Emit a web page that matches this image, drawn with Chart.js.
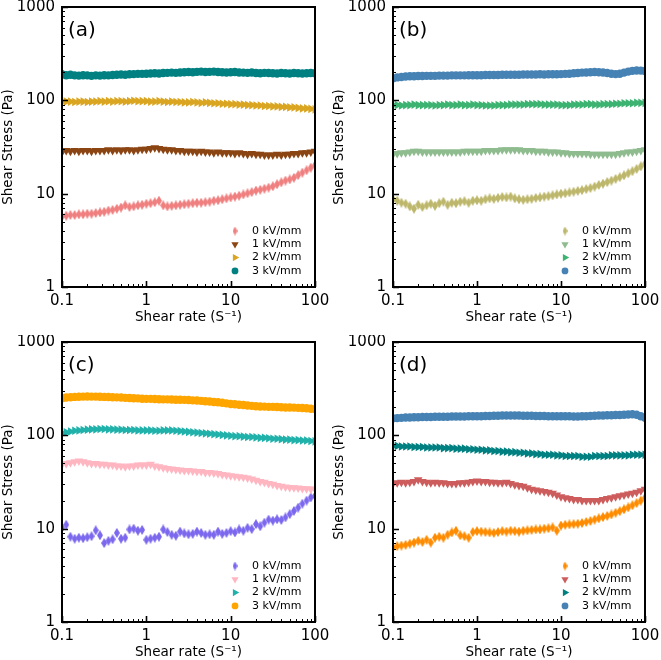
<!DOCTYPE html>
<html><head><meta charset="utf-8">
<script src="https://cdn.jsdelivr.net/npm/chart.js@4.4.0/dist/chart.umd.min.js"></script>
<style>
html,body{margin:0;padding:0;background:#fff;width:661px;height:660px;overflow:hidden;position:relative;}
canvas{position:absolute;}
</style></head><body>
<canvas id="ca" width="330" height="330" style="left:0;top:0"></canvas>
<canvas id="cb" width="330" height="330" style="left:331px;top:0"></canvas>
<canvas id="cc" width="330" height="330" style="left:0;top:335px"></canvas>
<canvas id="cd" width="330" height="330" style="left:331px;top:335px"></canvas>
<script>
// ---------- data ----------
const shearRate = [
 0.1,0.1122,0.1259,0.1413,0.1585,0.1778,0.1995,0.2239,0.2512,0.2818,
 0.3162,0.3548,0.3981,0.4467,0.5012,0.5623,0.6310,0.7079,0.7943,0.8913,
 1,1.122,1.259,1.413,1.585,1.778,1.995,2.239,2.512,2.818,
 3.162,3.548,3.981,4.467,5.012,5.623,6.310,7.079,7.943,8.913,
 10,11.22,12.59,14.13,15.85,17.78,19.95,22.39,25.12,28.18,
 31.62,35.48,39.81,44.67,50.12,56.23,63.10,70.79,79.43,89.13,100];
const fieldLabels = ['0 kV/mm','1 kV/mm','2 kV/mm','3 kV/mm'];
const panelLabels = ['(a)','(b)','(c)','(d)'];
const xTicks = [0.1,1,10,100];
const xTickLabels = ['0.1','1','10','100'];
const yTicks = [1,10,100,1000];
const yTickLabels = ['1','10','100','1000'];
const xTitle = 'Shear rate (S\u207B\u00B9)';
const yTitle = 'Shear Stress (Pa)';

// panel (a)
const stressA0 = [5.7,5.8,5.9,5.9,6.0,6.0,6.1,6.1,6.2,6.3, 6.4,6.6,6.7,6.9,7.1,7.5,7.2,7.3,7.5,7.6,
 7.8,7.9,8.1,8.4,7.5,7.3,7.4,7.5,7.6,7.7, 7.8,7.9,8.0,8.0,8.1,8.2,8.4,8.5,8.7,8.9,
 9.1,9.3,9.5,9.8,10.1,10.4,10.8,11.0,11.3,11.6, 12.0,12.6,13.2,13.8,14.2,14.8,15.8,16.8,17.8,19.0,20.2];
const stressA1 = [28,29,28.5,29,28.5,29,29,28.5,29,29, 29,29.5,29,29.5,29,29.5,29.5,29,29.5,30,
 30,30.5,31,30.5,30,29.5,29.5,29,29,28.5, 28.5,28.5,28,28.5,28,28,27.5,28,27.5,27.5,
 27.5,27,27.5,27,26.5,27,26.5,26.5,26,26, 26,26.5,26,26.5,26.5,27,27,27.5,27.5,28,28.5];
const stressA2 = [96,97,97,96,97,97,96,97,97,98, 97,98,97,98,98,97,98,99,98,98,
 98,97,97,98,97,96,97,96,96,95, 95,96,95,94,95,94,93,93,92,92,
 91,91,90,90,89,89,88,88,87,87, 86,86,85,85,84,84,83,82,82,81,80];
const stressA3 = [190,186,188,185,184,186,185,183,185,184, 186,185,187,188,189,188,190,191,192,192,
 193,194,195,194,196,197,198,197,199,200, 201,200,202,203,201,202,203,201,200,199,
 200,201,199,198,197,199,196,195,197,196, 195,194,196,195,194,196,195,194,195,196,195];

// panel (b)
const stressB0 = [8.7,8.4,8.0,7.8,7.3,6.9,7.6,7.2,7.5,7.8, 7.4,7.9,8.2,7.6,8.0,7.9,8.2,8.3,8.0,8.4,
 8.5,8.4,8.7,8.9,8.8,9.0,9.2,9.1,9.3,8.9, 8.7,8.6,8.7,8.8,9.0,9.1,9.3,9.4,9.6,9.8,
 10.0,10.1,10.3,10.5,10.7,10.9,11.2,11.5,11.9,12.4, 12.8,13.3,13.8,14.4,15.0,15.7,16.5,17.4,18.4,19.6,21.0];
const stressB1 = [26.5,27,27.5,27.5,28,28.5,28.5,28,28,28, 28,28,28,28,28,28,28,28.5,28.5,28.5,
 28.5,28.5,29,29,29,29,29.5,29.5,29.5,29.5, 29.5,29,29,29,28.5,28.5,28.5,28,28,28,
 27.5,27.5,27,27,27,27,27,26.5,26.5,26.5, 26.5,26.5,26.5,26.5,27,27.5,28,28,28.5,29,29.5];
const stressB2 = [89,89,88,89,89,90,89,89,89,89, 88,89,89,90,89,89,90,89,89,90,
 89,89,88,88,88,89,89,89,90,90, 90,90,91,91,91,91,90,90,90,90,
 89,89,89,90,90,90,91,91,90,90, 91,91,91,92,92,93,93,93,94,94,94];
const stressB3 = [172,176,178,180,181,181,182,182,183,183, 183,184,184,184,185,185,185,185,186,186,
 186,186,187,187,187,187,188,188,188,188, 188,189,189,189,189,190,189,190,190,190,
 191,192,193,195,196,198,199,200,201,200, 199,196,193,191,193,198,203,207,209,208,206];

// panel (c)
const stressC0 = [10.2,11.0,8.2,7.8,8.0,7.9,8.1,8.3,9.6,8.5, 7.0,7.4,7.7,9.0,7.8,8.0,9.8,10.0,9.5,9.7,
 7.6,7.8,8.0,8.2,9.8,9.2,8.6,8.4,9.3,8.9, 8.7,8.8,9.3,9.0,8.6,8.7,8.6,9.3,8.8,9.0,
 9.4,9.1,9.8,9.5,10.2,9.9,11.2,10.6,11.6,12.5, 12.2,12.6,12.4,13.2,14.3,15.5,16.8,18.5,20.0,21.6,22.4];
const stressC1 = [49,50,51,52,53,52,51,50,50,49, 49,48,48,47,47,46,47,47,48,48,
 48,49,47,46,45,44,43.5,43,42.5,42, 42,41.5,41,41,40,40,39.5,39,38,37.5,
 37,36.5,36,35.5,35,34,33,32,31.5,30.5, 30,29,28.5,28,27.6,27.5,27.2,27,26.8,26.6,26.5];
const stressC2 = [106,108,110,112,113,114,115,116,116,117, 117,116,116,115,115,114,114,114,113,113,
 113,113,112,112,113,113,113,112,111,110, 109,108,107,106,105,104,103,102,101,100,
 99,98,98,97,96,96,95,94,94,93, 92,92,91,90,90,89,89,88,88,87,86];
const stressC3 = [250,254,256,258,259,260,261,260,260,259, 258,257,256,255,254,252,251,250,249,247,
 246,246,245,244,243,243,242,241,241,240, 239,237,236,234,232,230,228,226,223,220,
 217,215,213,211,209,207,205,204,203,202, 202,201,200,199,199,198,197,196,195,193,191];

// panel (d)
const stressD0 = [6.3,6.5,6.6,6.7,6.9,7.1,7.4,7.2,7.6,7.1, 8.0,8.2,8.0,8.6,9.1,9.5,8.5,8.3,8.0,9.2,
 9.4,9.3,9.2,9.1,9.0,9.2,9.4,9.3,9.5,9.4, 9.3,9.5,9.6,9.7,9.8,9.8,10.0,10.1,10.3,9.5,
 10.8,11.0,11.1,11.2,11.3,11.5,11.8,12.1,12.5,12.9, 13.3,13.7,14.2,14.8,15.4,16.1,16.9,17.8,18.8,20.0,21.5];
const stressD1 = [30.5,31,31.5,31,31.5,32,33.5,32,31.5,31, 31.5,31,31,30.5,30.5,30.5,31,31,31.5,32,
 32.5,32,32,31.5,31.5,31,31,31.5,30.5,29.5, 29,28.5,27.5,26.5,26,25.5,25,24.5,24,23,
 22,21.5,21,20.5,20.5,20,20,20,20,20, 20.5,21,21.5,22,22.5,23,23.5,24,24.5,25.5,26.5];
const stressD2 = [77,77,76,76,76,75,75,75,74,74, 74,74,73,73,73,72,72,72,71,71,
 70,70,69,69,68,68,67,67,66,66, 65,65,64,64,63,63,62,62,62,61,
 61,60,60,60,60,59,59,59,60,60, 60,60,61,61,61,61,61,62,62,62,62];
const stressD3 = [152,153,154,155,155,156,156,157,157,157, 158,158,158,158,159,159,159,159,160,160,
 160,160,161,161,162,162,163,163,163,163, 163,162,162,162,161,161,161,160,160,160,
 160,160,160,159,159,160,160,161,162,163, 163,164,164,165,165,166,167,168,166,160,154];

const colorsA = ['#f08080','#8b4513','#daa520','#008080'];
const colorsB = ['#bdb76b','#8fbc8f','#3cb371','#4682b4'];
const colorsC = ['#7b68ee','#ffb6c1','#20b2aa','#ffa500'];
const colorsD = ['#ff8c00','#cd5c5c','#008080','#4682b4'];

// ---------- rendering ----------
const FONT = '"DejaVu Sans", "Liberation Sans", sans-serif';

function thinDiamond(color, w, h) {
  const c = document.createElement('canvas');
  c.width = w; c.height = h;
  const g = c.getContext('2d');
  g.fillStyle = color;
  g.beginPath();
  g.moveTo(w/2, 0); g.lineTo(w, h/2); g.lineTo(w/2, h); g.lineTo(0, h/2);
  g.closePath(); g.fill();
  return c;
}

function markerFor(j, color, legend) {
  if (j === 0) return legend ? {pointStyle: thinDiamond(color, 5, 9), rotation: 0, radius: 4.5}
                             : {pointStyle: thinDiamond(color, 6, 10), rotation: 0, radius: 5};
  if (j === 1) return {pointStyle: 'triangle', rotation: 180, radius: legend ? 4.2 : 5};
  if (j === 2) return {pointStyle: 'triangle', rotation: 90, radius: legend ? 4.2 : 5};
  return {pointStyle: 'circle', rotation: 0, radius: legend ? 3.4 : 4.2};
}

function decorPlugin(panel, colors) {
  return {
    id: 'decor' + panel,
    afterDraw(chart) {
      const ctx = chart.ctx, a = chart.chartArea;
      const xs = chart.scales.x, ys = chart.scales.y;
      ctx.save();
      ctx.strokeStyle = '#000';
      const drawTicks = (major) => {
        ctx.beginPath();
        for (let e = -1; e <= 2; e++) for (let k = 1; k <= 9; k++) {
          if ((k === 1) !== major) continue;
          const v = k * Math.pow(10, e);
          if (v < 0.1 - 1e-9 || v > 100 + 1e-9) continue;
          const px = Math.round(xs.getPixelForValue(v)) + 0.5;
          const L = major ? 6 : 3;
          ctx.moveTo(px, a.bottom); ctx.lineTo(px, a.bottom - L);
        }
        for (let e = 0; e <= 3; e++) for (let k = 1; k <= 9; k++) {
          if ((k === 1) !== major) continue;
          const v = k * Math.pow(10, e);
          if (v < 1 - 1e-9 || v > 1000 + 1e-9) continue;
          const py = Math.round(ys.getPixelForValue(v)) + 0.5;
          const L = major ? 6 : 3;
          ctx.moveTo(a.left, py); ctx.lineTo(a.left + L, py);
        }
        ctx.stroke();
      };
      ctx.lineWidth = 1; drawTicks(false);
      ctx.lineWidth = 1.6; drawTicks(true);
      ctx.lineWidth = 2;
      ctx.strokeRect(a.left, a.top, a.right - a.left, a.bottom - a.top);

      // panel label
      ctx.fillStyle = '#000';
      ctx.font = '20px ' + FONT;
      ctx.textAlign = 'left';
      ctx.textBaseline = 'middle';
      ctx.fillText(panelLabels[panel], a.left + 6, a.top + 24);

      // legend
      ctx.font = '11px ' + FONT;
      for (let j = 0; j < 4; j++) {
        const y = a.bottom - 56 + j * 13.3;
        const m = markerFor(j, colors[j], true);
        ctx.fillStyle = colors[j];
        ctx.strokeStyle = colors[j];
        Chart.helpers.drawPoint(ctx, {pointStyle: m.pointStyle, rotation: m.rotation,
          radius: m.radius, borderWidth: 0}, a.right - 80, y);
        ctx.fillStyle = '#000';
        ctx.fillText(fieldLabels[j], a.right - 63, y);
      }
      ctx.restore();
    }
  };
}

function makeChart(id, panel, series, colors, padRight) {
  const datasets = series.map((arr, j) => {
    const m = markerFor(j, colors[j], false);
    return {
      label: fieldLabels[j],
      data: shearRate.map((x, i) => ({x: x, y: arr[i]})),
      backgroundColor: colors[j],
      borderColor: colors[j],
      borderWidth: 0,
      pointStyle: m.pointStyle,
      rotation: m.rotation,
      pointRadius: m.radius,
      pointHoverRadius: m.radius,
      clip: 0,
      order: 3 - j
    };
  });
  new Chart(document.getElementById(id), {
    type: 'scatter',
    data: {datasets: datasets},
    options: {
      responsive: false,
      animation: false,
      events: [],
      layout: {padding: {top: 7, right: padRight, left: 0, bottom: 0}},
      plugins: {legend: {display: false}, tooltip: {enabled: false}},
      scales: {
        x: {
          type: 'logarithmic', min: 0.1, max: 100,
          border: {display: false},
          grid: {display: false, drawTicks: false},
          afterBuildTicks: s => { s.ticks = xTicks.map(v => ({value: v})); },
          afterFit: s => { s.height = 43; s.paddingLeft = 0; s.paddingRight = 0; },
          ticks: {autoSkip: false, maxRotation: 0, padding: 5, color: '#000',
            font: {family: FONT, size: 15},
            callback: v => { const i = xTicks.indexOf(v); return i >= 0 ? xTickLabels[i] : ''; }},
          title: {display: true, text: xTitle, color: '#000',
            font: {family: FONT, size: 13.5}, padding: {top: 0, bottom: 4}}
        },
        y: {
          type: 'logarithmic', min: 1, max: 1000,
          border: {display: false},
          grid: {display: false, drawTicks: false},
          afterBuildTicks: s => { s.ticks = yTicks.map(v => ({value: v})); },
          afterFit: s => { s.width = 62; s.paddingTop = 0; s.paddingBottom = 0; },
          ticks: {autoSkip: false, padding: 7, color: '#000',
            font: {family: FONT, size: 15},
            callback: v => { const i = yTicks.indexOf(v); return i >= 0 ? yTickLabels[i] : ''; }},
          title: {display: true, text: yTitle, color: '#000',
            font: {family: FONT, size: 13.5}, padding: {top: 0, bottom: 0}}
        }
      }
    },
    plugins: [decorPlugin(panel, colors)]
  });
}

makeChart('ca', 0, [stressA0, stressA1, stressA2, stressA3], colorsA, 15);
makeChart('cb', 1, [stressB0, stressB1, stressB2, stressB3], colorsB, 16);
makeChart('cc', 2, [stressC0, stressC1, stressC2, stressC3], colorsC, 15);
makeChart('cd', 3, [stressD0, stressD1, stressD2, stressD3], colorsD, 16);
</script>
</body></html>
